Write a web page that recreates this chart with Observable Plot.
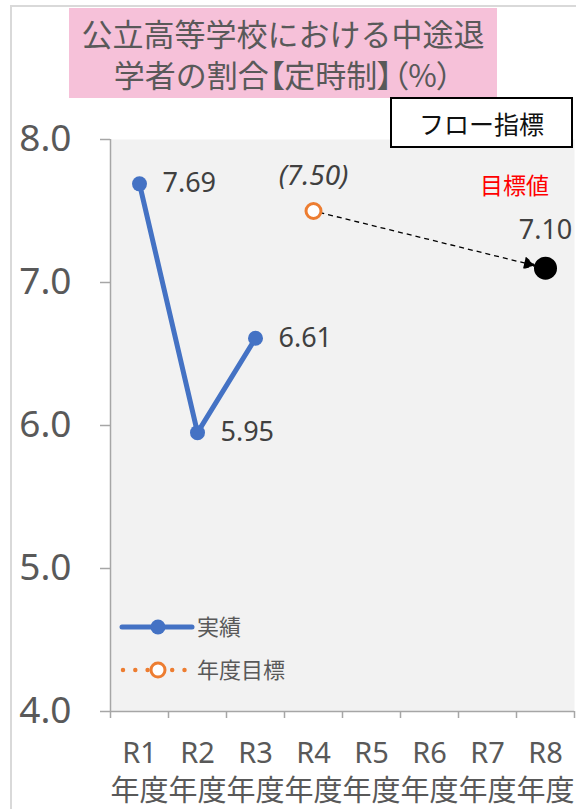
<!DOCTYPE html>
<html><head><meta charset="utf-8">
<script src="https://cdn.jsdelivr.net/npm/d3@7"></script>
<script src="https://cdn.jsdelivr.net/npm/@observablehq/plot@0.6"></script>
<style>
body{margin:0;background:#fff;}
#wrap{position:relative;width:576px;height:809px;overflow:hidden;font-family:"Noto Sans","Noto Sans CJK JP",sans-serif;}
#wrap svg.plot{position:absolute;left:0;top:0;}
.frame-top{position:absolute;left:10px;top:5px;width:566px;height:2px;background:#d9d9d9;}
.frame-left{position:absolute;left:10px;top:5px;width:2px;height:804px;background:#d9d9d9;}
#title{position:absolute;left:69px;top:8px;width:428px;height:90px;background:#f6c1d9;color:#595959;
  font-family:"Noto Sans CJK JP",sans-serif;font-size:31px;line-height:41px;text-align:center;
  display:flex;flex-direction:column;justify-content:center;}
#title .p{font-feature-settings:"palt";}
#flow{position:absolute;left:390px;top:97px;width:179px;height:47px;border:2px solid #000;background:#fff;
  font-family:"Noto Sans CJK JP",sans-serif;font-size:25px;color:#111;display:flex;align-items:center;justify-content:center;}
#legend{position:absolute;left:0;top:0;pointer-events:none;}
</style></head><body><div id="wrap"></div>
<script>
const categories = ["R1","R2","R3","R4","R5","R6","R7","R8"];
const yearSuffix = "年度";
const actualYears = ["R1","R2","R3"];
const actualValues = [7.69, 5.95, 6.61];
const targetYears = ["R4"];
const targetValues = [7.50];
const goalYears = ["R8"];
const goalValues = [7.10];
const goalLabel = "目標値";
const yTicks = [4, 5, 6, 7, 8];
const titleLines = ["公立高等学校における中途退", "学者の割合<span class='p'>【</span>定時制<span class='p'>】（</span>%<span class='p'>）</span>"];
const indicatorLabel = "フロー指標";
const legendLabels = ["実績", "年度目標"];

const BLUE = "#4472c4", ORANGE = "#ed7d31", AXIS = "#a6a6a6", TXT = "#595959", VAL = "#404040";
const FONT = '"Noto Sans","Noto Sans CJK JP",sans-serif';

const xi = c => categories.indexOf(c) + 1;
const actual = actualYears.map((c, i) => ({x: xi(c), y: actualValues[i]}));
const target = targetYears.map((c, i) => ({x: xi(c), y: targetValues[i]}));
const goal = goalYears.map((c, i) => ({x: xi(c), y: goalValues[i]}));
const arrows = target.map((t, i) => ({x1: t.x, y1: t.y, x2: goal[i].x, y2: goal[i].y}));
const xDomain = [0.5, categories.length + 0.5];
const bounds = d3.range(categories.length + 1).map(i => i + 0.5);
const centers = d3.range(1, categories.length + 1);

const chart = Plot.plot({
  width: 576, height: 809,
  marginLeft: 110, marginRight: 2, marginTop: 139, marginBottom: 98,
  style: {background: "transparent", fontFamily: FONT},
  x: {type: "linear", domain: xDomain},
  y: {domain: [yTicks[0], yTicks[yTicks.length - 1]]},
  marks: [
    Plot.frame({fill: "#f2f2f2", stroke: null}),
    Plot.ruleX([xDomain[0]], {stroke: AXIS, strokeWidth: 1.5}),
    Plot.ruleY([yTicks[0]], {stroke: AXIS, strokeWidth: 1.5}),
    Plot.axisY({ticks: yTicks, tickSize: 10, tickPadding: 29, tickFormat: d3.format(".1f"),
      fontSize: 37, fill: TXT, stroke: AXIS, strokeWidth: 1.5, label: null}),
    Plot.axisX({ticks: bounds, tickSize: 7, fill: "none", stroke: AXIS, strokeWidth: 1.5, label: null}),
    Plot.axisX({ticks: centers, tickSize: 0, tickPadding: 24, tickFormat: i => categories[i - 1] + "\n" + yearSuffix,
      fontSize: 29, lineHeight: 1.33, fill: TXT, label: null, ariaLabel: "x-cat"}),
    Plot.line(actual, {x: "x", y: "y", stroke: BLUE, strokeWidth: 5, strokeLinejoin: "round", strokeLinecap: "round"}),
    Plot.dot(actual, {x: "x", y: "y", r: 7.5, fill: BLUE, stroke: null}),
    Plot.text(actual, {x: "x", y: "y", text: d => d.y.toFixed(2), textAnchor: "start", dx: 23, fontSize: 27, fill: VAL, ariaLabel: "value-labels"}),
    Plot.arrow(arrows, {x1: "x1", y1: "y1", x2: "x2", y2: "y2", stroke: "#000", fill: "#000", strokeWidth: 1.3,
      strokeDasharray: "5,4", insetStart: 6, insetEnd: 11, headLength: 14, headAngle: 55, strokeLinecap: "butt"}),
    Plot.dot(target, {x: "x", y: "y", r: 7.5, fill: "#fff", stroke: ORANGE, strokeWidth: 3}),
    Plot.text(target, {x: "x", y: "y", text: d => `(${d.y.toFixed(2)})`, dy: -35, fontSize: 28, fontStyle: "italic", fill: VAL, ariaLabel: "value-labels"}),
    Plot.dot(goal, {x: "x", y: "y", r: 11.5, fill: "#000", stroke: null}),
    Plot.text(goal, {x: "x", y: "y", text: d => d.y.toFixed(2), dy: -38, fontSize: 27, fill: VAL, ariaLabel: "value-labels"}),
    Plot.text(goal, {x: "x", y: "y", text: () => goalLabel, dx: -31, dy: -82, fontSize: 23, fill: "#ff0000", fontFamily: '"Noto Sans CJK JP",sans-serif'})
  ]
});
chart.classList.add("plot");
d3.select(chart).selectAll('g[aria-label="value-labels"] text').attr("letter-spacing", "2.5px");
d3.select(chart).selectAll('g[aria-label="x-cat"] text').each(function() {
  const ts = d3.select(this).selectAll("tspan");
  ts.filter((d, i) => i === 0).attr("font-size", 32).attr("letter-spacing", "1px");
  ts.filter((d, i) => i === 1).attr("font-family", '"Noto Sans CJK JP",sans-serif');
});

const wrap = document.getElementById("wrap");
wrap.appendChild(chart);
wrap.insertAdjacentHTML("beforeend", `<div class="frame-top"></div><div class="frame-left"></div>`);

const title = document.createElement("div");
title.id = "title";
title.innerHTML = titleLines.map(l => `<div>${l}</div>`).join("");
wrap.appendChild(title);

const flow = document.createElement("div");
flow.id = "flow";
flow.textContent = indicatorLabel;
wrap.appendChild(flow);

// legend
const lg = d3.create("svg").attr("id", "legend").attr("width", 576).attr("height", 809);
const items = [
  {y: 627, label: legendLabels[0], kind: "actual"},
  {y: 670, label: legendLabels[1], kind: "target"}
];
for (const it of items) {
  const g = lg.append("g");
  if (it.kind === "actual") {
    g.append("line").attr("x1", 122).attr("x2", 192).attr("y1", it.y).attr("y2", it.y)
      .attr("stroke", BLUE).attr("stroke-width", 5).attr("stroke-linecap", "round");
    g.append("circle").attr("cx", 158).attr("cy", it.y).attr("r", 7.5).attr("fill", BLUE);
  } else {
    g.append("line").attr("x1", 123).attr("x2", 190).attr("y1", it.y).attr("y2", it.y)
      .attr("stroke", ORANGE).attr("stroke-width", 4.5).attr("stroke-linecap", "round").attr("stroke-dasharray", "0 12.3");
    g.append("circle").attr("cx", 158).attr("cy", it.y).attr("r", 7).attr("fill", "#fff").attr("stroke", ORANGE).attr("stroke-width", 3);
  }
  g.append("text").attr("x", 197).attr("y", it.y).attr("dy", "0.35em").attr("font-size", 22)
    .attr("fill", TXT).attr("font-family", '"Noto Sans CJK JP",sans-serif').text(it.label);
}
wrap.appendChild(lg.node());
</script>
</body></html>
